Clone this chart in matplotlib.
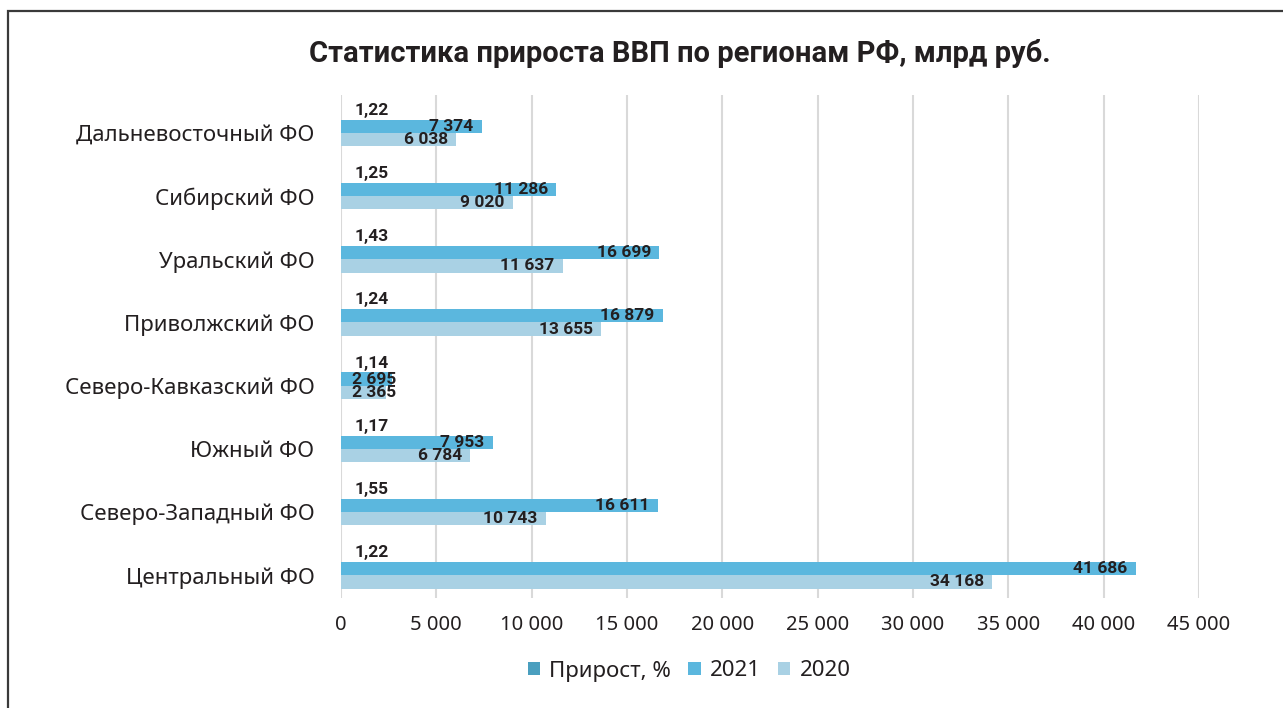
import matplotlib.pyplot as plt
from matplotlib.patches import Rectangle
from matplotlib.ticker import FuncFormatter, MultipleLocator

plt.rcParams['font.family'] = ['Noto Sans', 'DejaVu Sans']
bold_family = ['Roboto', 'DejaVu Sans']

regions = ["Центральный ФО", "Северо-Западный ФО", "Южный ФО", "Северо-Кавказский ФО",
           "Приволжский ФО", "Уральский ФО", "Сибирский ФО", "Дальневосточный ФО"]
growth = [1.22, 1.55, 1.17, 1.14, 1.24, 1.43, 1.25, 1.22]
gdp_2021 = [41686, 16611, 7953, 2695, 16879, 16699, 11286, 7374]
gdp_2020 = [34168, 10743, 6784, 2365, 13655, 11637, 9020, 6038]

c_growth = "#4a9fbf"
c_2021 = "#5bb7de"
c_2020 = "#a9d1e4"
text_c = "#231f20"


def fmt_thousands(v, pos=None):
    return f"{v:,.0f}".replace(",", " ")


fig = plt.figure(figsize=(12.83, 7.08), dpi=100)
ax = fig.add_axes([341 / 1283, 1 - 598 / 708, (1199 - 341) / 1283, (598 - 95) / 708])

h = 0.21
ys = list(range(len(regions)))
ax.barh([y + 1.5 * h for y in ys], growth, height=h, color=c_growth, label="Прирост, %")
ax.barh([y + 0.5 * h for y in ys], gdp_2021, height=h, color=c_2021, label="2021")
ax.barh([y - 0.5 * h for y in ys], gdp_2020, height=h, color=c_2020, label="2020")

lbl = dict(fontsize=12.5, fontweight="bold", family=bold_family, color=text_c, va="center")


def value_label(v, y):
    # короткие столбики: подпись не помещается, ставим её от начала оси
    if v < 4000:
        ax.annotate(fmt_thousands(v), (0, y), xytext=(8, 0),
                    textcoords="offset points", ha="left", **lbl)
    else:
        ax.annotate(fmt_thousands(v), (v, y), xytext=(-6, 0),
                    textcoords="offset points", ha="right", **lbl)


for y, g, a, b in zip(ys, growth, gdp_2021, gdp_2020):
    ax.annotate(f"{g:.2f}".replace(".", ","), (0, y + 1.7 * h), xytext=(10, 0),
                textcoords="offset points", ha="left", **lbl)
    value_label(a, y + 0.5 * h)
    value_label(b, y - 0.5 * h)

ax.set_xlim(0, 45000)
ax.set_ylim(-0.36, 7.6)
ax.xaxis.set_major_locator(MultipleLocator(5000))
ax.xaxis.set_major_formatter(FuncFormatter(fmt_thousands))
ax.set_yticks(ys)
ax.set_yticklabels(regions)
ax.tick_params(axis="both", length=0, colors=text_c)
ax.tick_params(axis="x", pad=12, labelsize=14.5)
ax.tick_params(axis="y", pad=19, labelsize=16)
ax.grid(axis="x", color="#d9d9d9", linewidth=1.5)
ax.set_axisbelow(True)
for s in ax.spines.values():
    s.set_visible(False)

fig.text(680 / 1283, 1 - 53 / 708, "Статистика прироста ВВП по регионам РФ, млрд руб.",
         ha="center", va="center", fontsize=21, fontweight="bold", family=bold_family,
         color=text_c)

fig.legend(loc="center", bbox_to_anchor=(689 / 1283, 1 - 671 / 708), ncol=3, frameon=False,
           fontsize=16, handlelength=0.55, handleheight=0.55, handletextpad=0.4,
           columnspacing=0.8, labelcolor=text_c)

# рамка вокруг диаграммы
fig.patches.append(Rectangle((8 / 1283, -0.05), 1.1, 1 - 11 / 708 + 0.05,
                             transform=fig.transFigure, fill=False,
                             edgecolor="#3a3a3a", linewidth=1.6, clip_on=False))

fig.savefig("out.png", dpi=100)
